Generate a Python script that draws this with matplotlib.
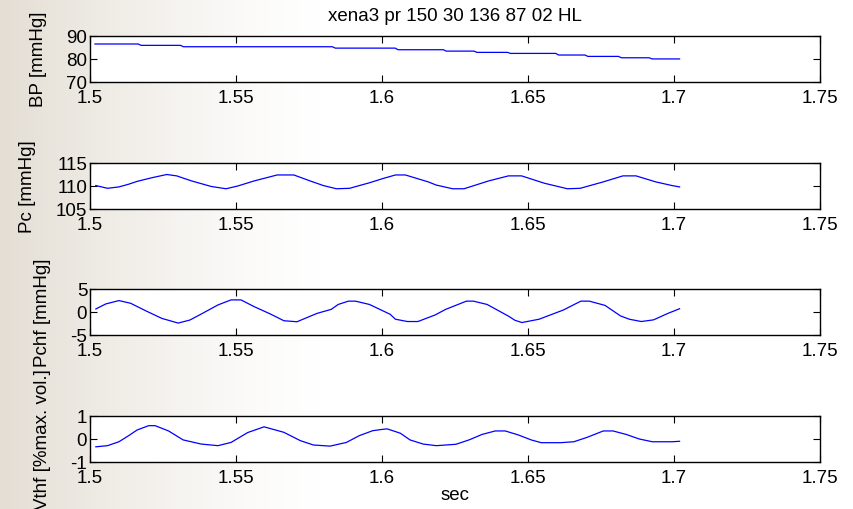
import numpy as np
import matplotlib
matplotlib.use("Agg")
import matplotlib.pyplot as plt

# ---------------- data ----------------
title = "xena3 pr 150 30 136 87 02 HL"
xlabel = "sec"
ylabels = ["BP [mmHg]", "Pc [mmHg]", "Pchf [mmHg]", "Vthf [%max. vol.]"]
xticks = [1.5, 1.55, 1.6, 1.65, 1.7, 1.75]
xtick_labels = ["1.5", "1.55", "1.6", "1.65", "1.7", "1.75"]
ylims = [(70, 90), (105, 115), (-5, 5), (-1, 1)]
yticks = [[70, 80, 90], [105, 110, 115], [-5, 0, 5], [-1, 0, 1]]

bp_t = [1.5017, 1.5165, 1.5175, 1.531, 1.532, 1.583, 1.584, 1.6045, 1.6055,
        1.621, 1.622, 1.6315, 1.6325, 1.643, 1.644, 1.6595, 1.6605, 1.6695,
        1.6705, 1.681, 1.682, 1.6915, 1.6925, 1.7019]
bp_v = [86.4, 86.4, 85.8, 85.8, 85.2, 85.2, 84.6, 84.6, 83.9, 83.9, 83.3,
        83.3, 82.75, 82.75, 82.3, 82.3, 81.6, 81.6, 81.0, 81.0, 80.4, 80.4,
        79.9, 79.9]

pc_t = [1.5020, 1.5060, 1.5099, 1.5133, 1.5161, 1.5212, 1.5263, 1.5297,
        1.5348, 1.5415, 1.5466, 1.5506, 1.5562, 1.5641, 1.5698, 1.5754,
        1.5799, 1.5844, 1.5889, 1.5957, 1.6002, 1.6046, 1.6080, 1.6158,
        1.6186, 1.6242, 1.6281, 1.6365, 1.6433, 1.6478, 1.6556, 1.6635,
        1.6679, 1.6758, 1.6825, 1.6870, 1.6937, 1.6993, 1.7019]
pc_v = [110.1, 109.5, 109.8, 110.4, 111.0, 111.8, 112.5, 112.2, 111.1,
        109.9, 109.4, 110.0, 111.1, 112.4, 112.4, 111.1, 110.1, 109.4,
        109.5, 110.7, 111.6, 112.4, 112.4, 110.9, 110.2, 109.4, 109.4,
        111.1, 112.2, 112.2, 110.6, 109.4, 109.5, 110.9, 112.2, 112.2,
        110.9, 110.1, 109.8]

pchf_t = [1.5020, 1.5054, 1.5099, 1.5139, 1.5190, 1.5246, 1.5302, 1.5342,
          1.5381, 1.5438, 1.5483, 1.5517, 1.5562, 1.5618, 1.5664, 1.5709,
          1.5731, 1.5778, 1.5826, 1.5850, 1.5885, 1.5909, 1.5957, 1.6028,
          1.6046, 1.6087, 1.6123, 1.6182, 1.6218, 1.6289, 1.6313, 1.6360,
          1.6432, 1.6455, 1.6479, 1.6538, 1.6621, 1.6681, 1.6710, 1.6764,
          1.6817, 1.6847, 1.6888, 1.6930, 1.6977, 1.7019]
pchf_v = [0.66, 1.75, 2.48, 1.9, 0.29, -1.39, -2.41, -1.75, -0.44, 1.53,
          2.63, 2.63, 1.17, -0.44, -1.9, -2.12, -1.53, -0.29, 0.57, 1.64,
          2.36, 2.36, 1.64, -0.5, -1.57, -2.07, -2.07, -0.64, 0.57, 2.36,
          2.36, 1.64, -0.86, -1.79, -2.29, -1.57, 0.43, 2.36, 2.36, 1.43,
          -0.86, -1.57, -2.07, -1.71, -0.36, 0.71]

vthf_t = [1.5020, 1.5060, 1.5099, 1.5133, 1.5161, 1.5201, 1.5223, 1.5269,
          1.5319, 1.5381, 1.5438, 1.5483, 1.5540, 1.5596, 1.5664, 1.5720,
          1.5765, 1.5822, 1.5878, 1.5923, 1.5968, 1.6002, 1.6018, 1.6063,
          1.6096, 1.6141, 1.6186, 1.6253, 1.6298, 1.6343, 1.6388, 1.6422,
          1.6466, 1.6511, 1.6545, 1.6612, 1.6657, 1.6702, 1.6758, 1.6791,
          1.6836, 1.6881, 1.6926, 1.6993, 1.7019]
vthf_v = [-0.34, -0.29, -0.12, 0.15, 0.39, 0.58, 0.58, 0.35, -0.04, -0.22,
          -0.29, -0.15, 0.28, 0.53, 0.29, -0.07, -0.26, -0.31, -0.15, 0.15,
          0.36, 0.42, 0.44, 0.25, -0.04, -0.22, -0.29, -0.23, -0.04, 0.2,
          0.35, 0.35, 0.18, -0.04, -0.16, -0.16, -0.12, 0.07, 0.35, 0.35,
          0.2, 0.0, -0.12, -0.12, -0.1]

series = [(bp_t, bp_v), (pc_t, pc_v), (pchf_t, pchf_v), (vthf_t, vthf_v)]

# ---------------- figure ----------------
plt.rcParams['font.family'] = ['Liberation Sans', 'DejaVu Sans']
FS = 13.5
W, H = 854, 510
fig = plt.figure(figsize=(W / 100, H / 100), dpi=100)

# textured beige background fading to white (left side)
bg = fig.add_axes([0, 0, 1, 1], zorder=-10)
xs = np.arange(W)
fade = np.clip(1 - xs / 320.0, 0, 1) ** 1.3
base = np.array([228, 222, 212]) / 255.0
row = 1 - fade[:, None] * (1 - base[None, :])
img = np.repeat(row[None, :, :], H, axis=0)
bg.imshow(img, aspect='auto', extent=[0, W, 0, H], interpolation='bilinear')
bg.set_xlim(0, W)
bg.set_ylim(0, H)
bg.axis('off')

left = 90 / W
width = 730 / W
tops = [36.7, 164.0, 290.0, 417.0]
hpx = 46.0

axes = []
for i, (t, v) in enumerate(series):
    top = tops[i]
    ax = fig.add_axes([left, 1 - (top + hpx) / H, width, hpx / H])
    ax.set_facecolor('white')
    ax.plot(t, v, color='#0000ff', lw=0.9)
    ax.set_xlim(1.5, 1.75)
    ax.set_ylim(*ylims[i])
    ax.set_xticks(xticks)
    ax.set_xticklabels(xtick_labels)
    ax.set_yticks(yticks[i])
    ax.set_yticklabels([str(y) for y in yticks[i]])
    ax.tick_params(direction='in', length=5, width=0.8, top=True, right=True,
                   labelsize=FS, colors='black')
    ax.tick_params(axis='x', pad=5)
    ax.tick_params(axis='y', pad=2)
    for s in ax.spines.values():
        s.set_linewidth(1.0)
        s.set_color('black')
    ax.set_ylabel(ylabels[i], fontsize=FS, labelpad=14)
    axes.append(ax)

axes[0].set_title(title, fontsize=FS, pad=11)
axes[-1].set_xlabel(xlabel, fontsize=FS, labelpad=0)

fig.savefig("out.png", dpi=100)
